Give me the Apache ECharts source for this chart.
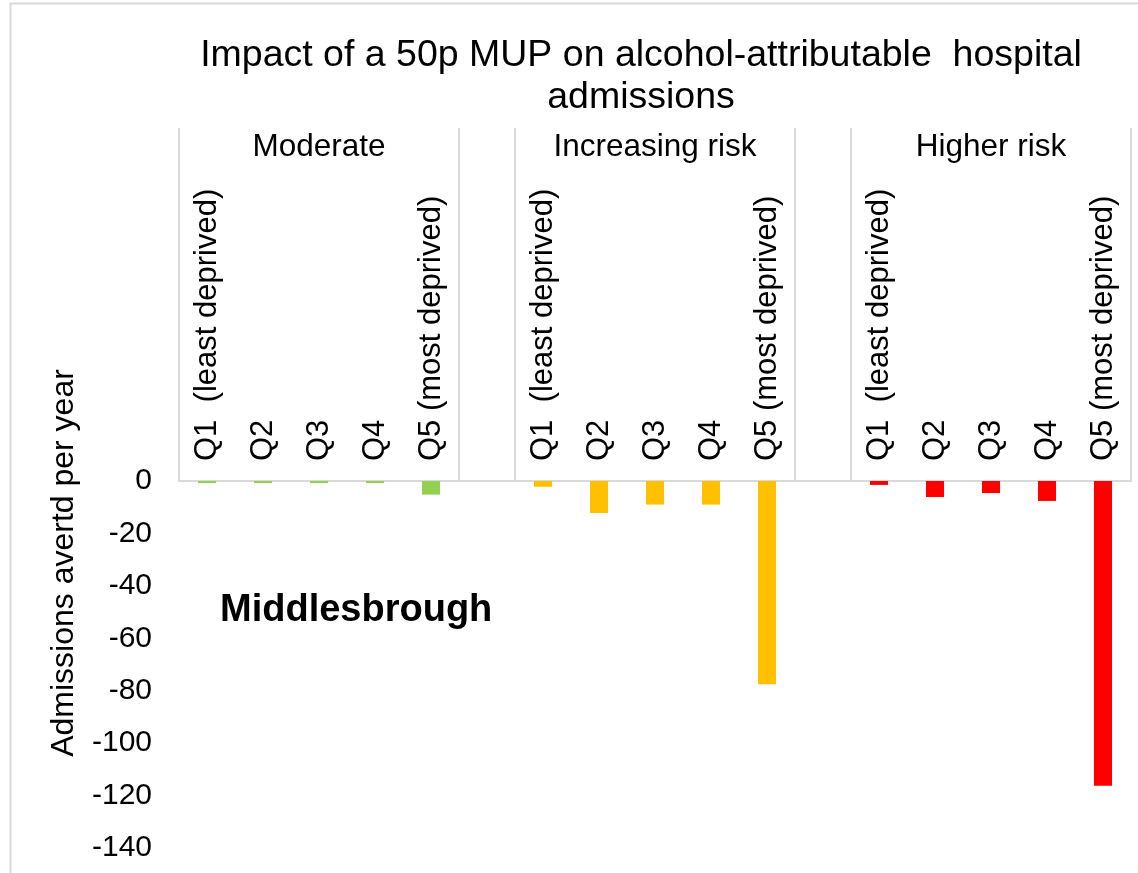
<!DOCTYPE html>
<html>
<head>
<meta charset="utf-8">
<script src="https://cdn.jsdelivr.net/npm/echarts@6/dist/echarts.min.js"></script>
<style>
  html, body { margin: 0; padding: 0; background: #fff; }
  #chart { width: 1138px; height: 873px; }
</style>
</head>
<body>
<div id="chart"></div>
<script>
// Drinker groups and deprivation quintiles
const groups = ['Moderate', 'Increasing risk', 'Higher risk'];
const quintiles = ['Q1  (least deprived)', 'Q2', 'Q3', 'Q4', 'Q5 (most deprived)'];

// Admissions averted per year (negative = fewer admissions), Q1..Q5
const moderateValues = [-0.8, -0.8, -0.8, -0.8, -5.2];
const increasingValues = [-2.2, -12.2, -9.0, -9.0, -77.5];
const higherValues = [-1.5, -6.1, -4.6, -7.6, -116.3];

const groupColors = ['#92D050', '#FFC000', '#FF0000'];

// Value axis ticks
const yMin = -140, yMax = 0, yStep = 20;

// One blank slot separates each group on the category axis
const categories = [];
const groupLabels = [];
const boundaryIdx = [];
groups.forEach((g, gi) => {
  if (gi > 0) { boundaryIdx.push(categories.length); categories.push(''); groupLabels.push(''); }
  boundaryIdx.push(categories.length);
  quintiles.forEach((q, qi) => {
    categories.push(q);
    groupLabels.push(qi === 2 ? g : '');
  });
});

const groupValues = [moderateValues, increasingValues, higherValues];
const series = groups.map((g, gi) => {
  const data = categories.map(() => null);
  const start = gi * (quintiles.length + 1);
  groupValues[gi].forEach((v, i) => { data[start + i] = v; });
  return {
    name: g,
    type: 'bar',
    stack: 'all',
    barWidth: 18,
    data: data,
    itemStyle: { color: groupColors[gi] }
  };
});

const FONT = '"Liberation Sans", Arial, sans-serif';

const chart = echarts.init(document.getElementById('chart'));
chart.setOption({
  animation: false,
  backgroundColor: '#fff',
  textStyle: { fontFamily: FONT },
  title: [{
    text: 'Impact of a 50p MUP on alcohol-attributable  hospital\nadmissions',
    left: 641,
    top: 35,
    padding: 0,
    textAlign: 'center',
    textStyle: { fontFamily: FONT, fontSize: 37.5, fontWeight: 'normal', color: '#000', lineHeight: 42 }
  }, {
    text: 'Middlesbrough',
    left: 220,
    top: 592,
    padding: 0,
    textStyle: { fontFamily: FONT, fontSize: 38, fontWeight: 'bold', color: '#000' }
  }],
  graphic: [{
    type: 'rect',
    shape: { x: 10.5, y: 3.5, width: 1400, height: 1000 },
    style: { fill: 'none', stroke: '#d9d9d9', lineWidth: 2 },
    silent: true
  }, {
    type: 'text',
    x: 64,
    y: 563,
    rotation: Math.PI / 2,
    style: {
      text: 'Admissions avertd per year',
      fontFamily: FONT,
      fontSize: 32,
      fill: '#000',
      align: 'center',
      verticalAlign: 'middle'
    }
  }],
  grid: { left: 179, right: 7, top: 481, bottom: 25 },
  xAxis: [{
    type: 'category',
    data: categories,
    position: 'top',
    axisLine: { show: true, lineStyle: { color: '#d9d9d9', width: 2 } },
    axisTick: {
      show: true,
      length: 353,
      interval: (idx) => boundaryIdx.indexOf(idx) >= 0,
      lineStyle: { color: '#d9d9d9', width: 2 }
    },
    axisLabel: {
      interval: 0,
      rotate: 90,
      margin: 20,
      fontFamily: FONT,
      fontSize: 31,
      color: '#000'
    },
    splitLine: { show: false }
  }, {
    type: 'category',
    data: groupLabels,
    position: 'top',
    offset: 318,
    axisLine: { show: false },
    axisTick: { show: false },
    axisLabel: {
      interval: 0,
      margin: 0,
      fontFamily: FONT,
      fontSize: 31.5,
      color: '#000'
    },
    splitLine: { show: false }
  }],
  yAxis: {
    type: 'value',
    min: yMin,
    max: yMax,
    interval: yStep,
    axisLine: { show: false },
    axisTick: { show: false },
    splitLine: { show: false },
    axisLabel: {
      margin: 27,
      fontFamily: FONT,
      fontSize: 30,
      color: '#000'
    }
  },
  series: series
});
</script>
</body>
</html>
